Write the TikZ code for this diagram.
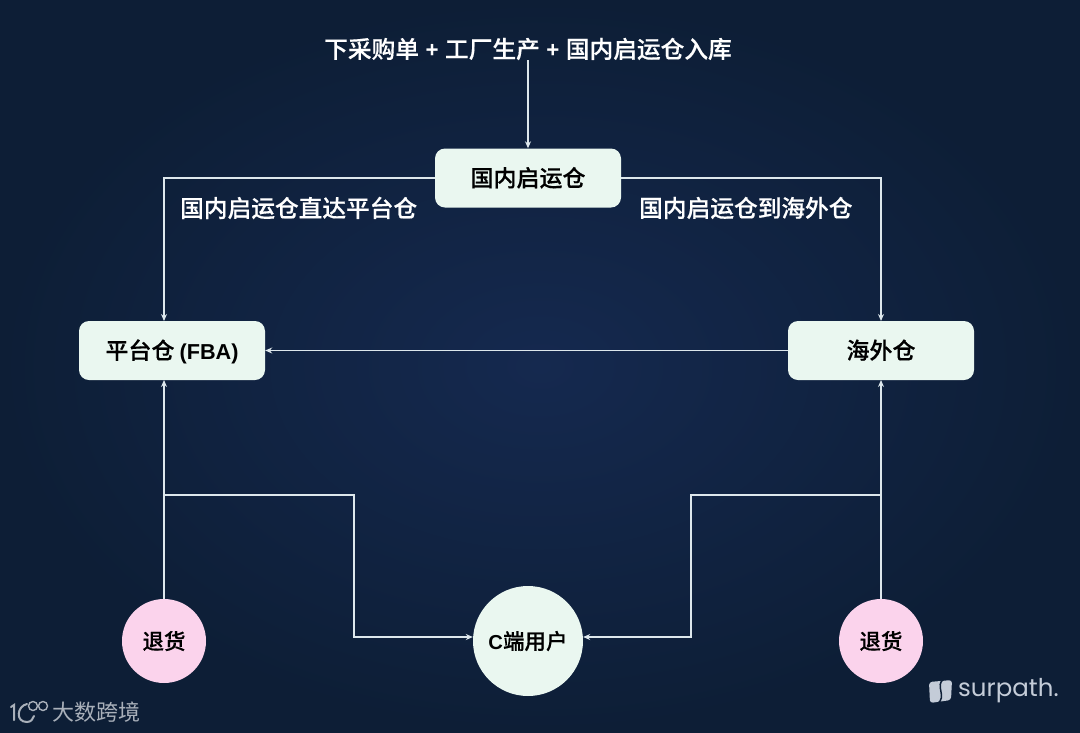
\documentclass[tikz,border=0pt]{standalone}
\usepackage{fontspec}
\setmainfont{Noto Sans CJK SC}[BoldFont={Noto Sans CJK SC Medium},BoldFeatures={FakeBold=0.35}]
\newfontfamily\latinfont{Liberation Sans}[Scale=0.94]
\newfontfamily\logofont{Poppins}
\newcommand{\lat}[1]{{\latinfont\bfseries #1}}
\newcommand{\plussign}{\hspace{6.5pt}\lat{+}\hspace{6.5pt}}
\usetikzlibrary{arrows.meta,positioning,calc}
\definecolor{bgmid}{HTML}{15294F}
\definecolor{bgedge}{HTML}{0D1E36}
\definecolor{boxfill}{HTML}{EAF7F0}
\definecolor{retfill}{HTML}{FBD3EC}
\definecolor{wirecol}{HTML}{DDE7EC}
\definecolor{logocol}{HTML}{A9B0BA}
\definecolor{surpcol}{HTML}{C4CCD8}
\begin{document}
\begin{tikzpicture}[
    x=1pt, y=-1pt,
    boxnode/.style={
      draw=none, rounded corners=10pt,
      fill=boxfill, text=black,
      font=\fontsize{23}{24}\selectfont\bfseries,
      minimum width=186pt,
      minimum height=59pt,
      inner sep=0pt,
      text height=20pt, text depth=3pt
    },
    retnode/.style={
      circle, fill=retfill, text=black,
      font=\fontsize{21.5}{24}\selectfont\bfseries,
      minimum size=84pt, inner sep=0pt
    },
    usernode/.style={retnode, fill=boxfill, minimum size=110pt},
    caption/.style={
      text=white, inner sep=0pt,
      font=\fontsize{23.7}{26}\selectfont\bfseries
    },
    wire/.style={draw=wirecol, line width=1.3pt, -{Stealth[length=7pt,width=6pt]}},
    logotext/.style={inner sep=0pt, text=logocol}
  ]

  % Background
  \shade[inner color=bgmid, outer color=bgedge] (0,0) rectangle (1080,732);
  \useasboundingbox (0,0) rectangle (1080,732);

  % Boxes
  \node[caption] (order) at (528,49) {下采购单\plussign 工厂生产\plussign 国内启运仓入库};
  \node[boxnode] (domestic) at (528,178) {国内启运仓};
  \node[boxnode] (fba) at (172,350.5) {平台仓 \lat{(FBA)}};
  \node[boxnode] (oversea) at (881,350.5) {海外仓};
  \node[retnode] (retleft) at (164,641) {退货};
  \node[retnode] (retright) at (881,641) {退货};
  \node[usernode] (user) at (528,641) {\lat{C}端用户};

  % Labels
  \node[caption, anchor=west] (tofba) at (180,208) {国内启运仓直达平台仓};
  \node[caption, anchor=west] (tooversea) at (639,208) {国内启运仓到海外仓};

  % Branch points
  \coordinate (fbain) at (164,321);
  \coordinate (fbaout) at (164,380);
  \coordinate (overin) at (881,321);
  \coordinate (overout) at (881,380);
  \coordinate (splitleft) at (164,495);
  \coordinate (splitright) at (881,495);

  \draw[wire] (order) -- (domestic);
  \draw[wire] (domestic.west) -| (fbain);
  \draw[wire] (domestic.east) -| (overin);
  \draw[wire] (oversea) -- (fba);
  \draw[wire] (retleft) -- (fbaout);
  \draw[wire] (retright) -- (overout);
  \draw[wire] (splitleft) -- (354,495) -- (354,637) -- (user.west |- 0,637);
  \draw[wire] (splitright) -- (691,495) -- (691,637) -- (user.east |- 0,637);

  % Logos
  \node[logotext, anchor=west, font=\fontsize{22}{24}\selectfont] (brandleft) at (52,712.5) {大数跨境};
  \draw[logocol, line width=2pt, line cap=round] (11,707) -- (14,705) -- (14,720);
  \draw[logocol, line width=2pt, line cap=round] (27,704) .. controls (17,706) and (15,722) .. (27,722) .. controls (31,722) and (33,719) .. (34,716);
  \draw[logocol, line width=1.4pt] (33,706) circle (4.5pt) (43,706) circle (4.5pt);
  \fill[surpcol, rounded corners=3pt] (929,682) -- (952,680) -- (951,700) -- (930,703) -- cycle;
  \draw[bgedge, line width=1.5pt] (944,679) .. controls (934,685) and (948,697) .. (937,704);
  \node[inner sep=0pt, anchor=west, text=surpcol, font=\fontsize{24.5}{28}\logofont] (brandright) at (958,691) {surpath.};
\end{tikzpicture}
\end{document}
